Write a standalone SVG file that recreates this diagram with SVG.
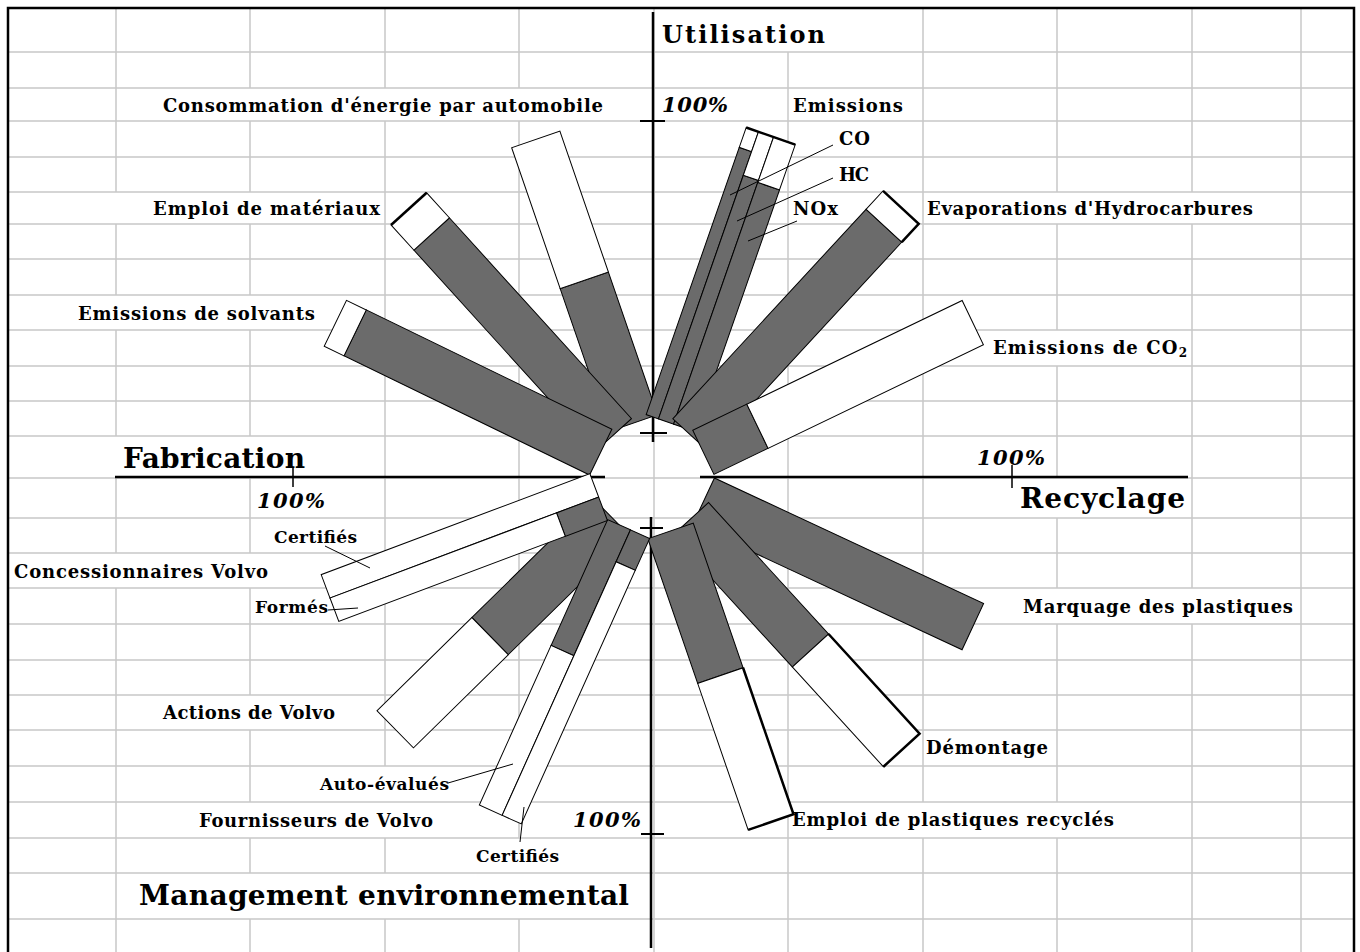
<svg xmlns="http://www.w3.org/2000/svg" width="1360" height="952" viewBox="0 0 1360 952">
<style>
.grid{stroke:#c8c8c8;stroke-width:1.5;fill:none}
.axis{stroke:#000;stroke-width:2.5;fill:none}
.tick{stroke:#000;stroke-width:2;fill:none}
.g{fill:#6b6b6b;stroke:#000;stroke-width:1}
.w{fill:#fff;stroke:#000;stroke-width:1}
.edge{stroke:#000;stroke-width:2.5;fill:none}
.lead{stroke:#000;stroke-width:1;fill:none}
text{font-family:"DejaVu Serif","Liberation Serif",serif;font-weight:bold;fill:#000}
.lbl{font-size:18px}
.sm{font-size:17px}
.big{font-size:28px}
.pct{font-size:21px;font-style:italic}
</style>
<rect width="1360" height="952" fill="#fff"/>
<g id="grid" class="grid">
<path d="M8 52H1354M8 88H1354M8 121H1354M8 157H1354M8 192H1354M8 224H1354M8 259H1354M8 295H1354M8 330H1354M8 366H1354M8 401H1354M8 436H1354M8 478H1354M8 518H1354M8 553H1354M8 588H1354M8 624H1354M8 660H1354M8 695H1354M8 730H1354M8 766H1354M8 802H1354M8 838H1354M8 873H1354M8 919H1354"/>
<path d="M116 8V192M116 224V295M116 330V436M116 478V553M116 588V952"/>
<path d="M250 8V88M250 121V192M250 224V295M250 330V436M250 478V553M250 588V695M250 730V802M250 838V873M250 919V952"/>
<path d="M385 8V88M385 121V766M385 838V873M385 919V952"/>
<path d="M519 8V88M519 121V838M519 919V952"/>
<path d="M654 8V952"/>
<path d="M788 52V952"/>
<path d="M923 8V802M923 838V952"/>
<path d="M1057 8V192M1057 224V330M1057 366V478M1057 518V588M1057 624V802M1057 838V952"/>
<path d="M1192 8V192M1192 224V588M1192 624V952"/>
<path d="M1301 8V952"/>
</g>
<path id="border" d="M8 952V8H1354V952" fill="none" stroke="#000" stroke-width="2.5"/>
<g id="axes">
<path class="axis" d="M653 12V442M651 517V948M115 477H605M700 477H1188"/>
</g>
<g id="bar-consommation" transform="translate(652 477) rotate(-19)">
<rect class="g" x="-25.5" y="-208" width="51" height="151"/>
<rect class="w" x="-25.5" y="-357" width="51" height="149"/>
</g>
<g id="bar-materiaux" transform="translate(652 477) rotate(-42.2)">
<rect class="g" x="-24" y="-328" width="48" height="271"/>
<rect class="w" x="-24" y="-362" width="48" height="34"/>
<line class="edge" x1="-24" y1="-362" x2="24" y2="-362" stroke-width="3"/>
</g>
<g id="bar-solvants" transform="translate(652 477) rotate(-64.1)">
<rect class="g" x="-25.5" y="-330" width="51" height="273"/>
<rect class="w" x="-25.5" y="-352" width="51" height="22"/>
</g>
<g id="bar-emissions" transform="translate(652 477) rotate(19.2)">
<rect class="g" x="-26" y="-340" width="13" height="283"/>
<rect class="w" x="-26" y="-361" width="13" height="21"/>
<rect class="g" x="-13" y="-315" width="16" height="258"/>
<rect class="w" x="-13" y="-361" width="16" height="46"/>
<rect class="g" x="3" y="-313" width="23" height="256"/>
<rect class="w" x="3" y="-361" width="23" height="48"/>
<line class="edge" x1="-26" y1="-361" x2="26" y2="-361"/>
</g>
<g id="bar-evaporations" transform="translate(652 477) rotate(42.7)">
<rect class="g" x="-24.25" y="-342" width="48.5" height="285"/>
<rect class="w" x="-24.25" y="-367" width="48.5" height="25"/>
<path class="edge" d="M-24.25 -367H24.25V-342"/>
</g>
<g id="bar-co2" transform="translate(652 477) rotate(64.3)">
<rect class="g" x="-24.5" y="-117" width="49" height="60"/>
<rect class="w" x="-24.5" y="-356" width="49" height="239"/>
</g>
<g id="bar-marquage" transform="translate(652 477) rotate(115)">
<rect class="g" x="-25.5" y="-354" width="51" height="297"/>
</g>
<g id="bar-demontage" transform="translate(652 477) rotate(137.6)">
<rect class="g" x="-24.5" y="-235" width="49" height="178"/>
<rect class="w" x="-24.5" y="-370" width="49" height="135"/>
<path class="edge" d="M-24.5 -235V-370H24.5" stroke-width="2"/>
</g>
<g id="bar-plastiques-recycles" transform="translate(652 477) rotate(161)">
<rect class="g" x="-24" y="-210" width="48" height="153"/>
<rect class="w" x="-24" y="-365" width="48" height="155"/>
<path class="edge" d="M-24 -210V-365H24" stroke-width="2"/>
</g>
<g id="bar-actions" transform="translate(652 477) rotate(-134.5)">
<rect class="g" x="-26" y="-227" width="52" height="170"/>
<rect class="w" x="-26" y="-360" width="52" height="133"/>
</g>
<g id="bar-fournisseurs" transform="translate(652 477) rotate(-155.8)">
<rect class="g" x="-2" y="-195" width="25" height="138"/>
<rect class="w" x="-2" y="-370" width="25" height="175"/>
<rect class="g" x="-23" y="-92" width="21" height="35"/>
<rect class="w" x="-23" y="-370" width="21" height="278"/>
</g>
<g id="bar-concessionnaires" transform="translate(652 477) rotate(-110.6)">
<rect class="w" x="0" y="-344" width="25" height="287"/>
<rect class="g" x="-25" y="-102" width="25" height="45"/>
<rect class="w" x="-25" y="-344" width="25" height="242"/>
</g>
<g id="ticks" class="tick">
<path d="M640 121H665M640 433H667M653 420V442M641 834H664M640 528H663"/>
<path d="M293 468V487M1012 465V488" stroke-width="1.5"/>
</g>
<g id="connectors" class="lead">
<line x1="833" y1="145" x2="730" y2="195"/>
<line x1="833" y1="178" x2="737" y2="221"/>
<line x1="797" y1="221" x2="748" y2="241"/>
<line x1="325" y1="546" x2="370" y2="568"/>
<line x1="328" y1="610" x2="358" y2="608"/>
<line x1="448" y1="783" x2="513" y2="764"/>
<line x1="524" y1="807" x2="520" y2="842"/>
</g>
<g id="labels">
<text id="t-utilisation" class="big" style="font-size:24px" x="662" y="43" textLength="163">Utilisation</text>
<text id="t-fabrication" class="big" x="123" y="468" textLength="182">Fabrication</text>
<text id="t-recyclage" class="big" x="1020" y="508" textLength="165">Recyclage</text>
<text id="t-management" class="big" x="139" y="905" textLength="490">Management environnemental</text>
<text class="pct" x="662" y="112" textLength="66">100%</text>
<text class="pct" x="977" y="465" textLength="68">100%</text>
<text class="pct" x="257" y="508" textLength="68">100%</text>
<text class="pct" x="573" y="827" textLength="68">100%</text>
<text class="lbl" x="163" y="112" textLength="440">Consommation d'énergie par automobile</text>
<text class="lbl" x="793" y="112" textLength="110">Emissions</text>
<text class="lbl" x="839" y="145" textLength="31">CO</text>
<text class="lbl" x="839" y="181" textLength="30">HC</text>
<text class="lbl" x="793" y="215" textLength="45">NOx</text>
<text class="lbl" x="153" y="215" textLength="227">Emploi de matériaux</text>
<text class="lbl" x="927" y="215" textLength="326">Evaporations d'Hydrocarbures</text>
<text class="lbl" x="78" y="320" textLength="237">Emissions de solvants</text>
<text class="lbl" x="993" y="354" textLength="194">Emissions de CO<tspan font-size="12" dy="3">2</tspan></text>
<text class="sm" x="274" y="543" textLength="83">Certifiés</text>
<text class="lbl" x="14" y="578" textLength="254">Concessionnaires Volvo</text>
<text class="sm" x="255" y="613" textLength="73">Formés</text>
<text class="lbl" x="1023" y="613" textLength="270">Marquage des plastiques</text>
<text class="lbl" x="163" y="719" textLength="172">Actions de Volvo</text>
<text class="lbl" x="926" y="754" textLength="122">Démontage</text>
<text class="sm" x="320" y="790" textLength="129">Auto-évalués</text>
<text class="lbl" x="199" y="827" textLength="234">Fournisseurs de Volvo</text>
<text class="lbl" x="792" y="826" textLength="322">Emploi de plastiques recyclés</text>
<text class="sm" x="476" y="862" textLength="83">Certifiés</text>
</g>
</svg>
